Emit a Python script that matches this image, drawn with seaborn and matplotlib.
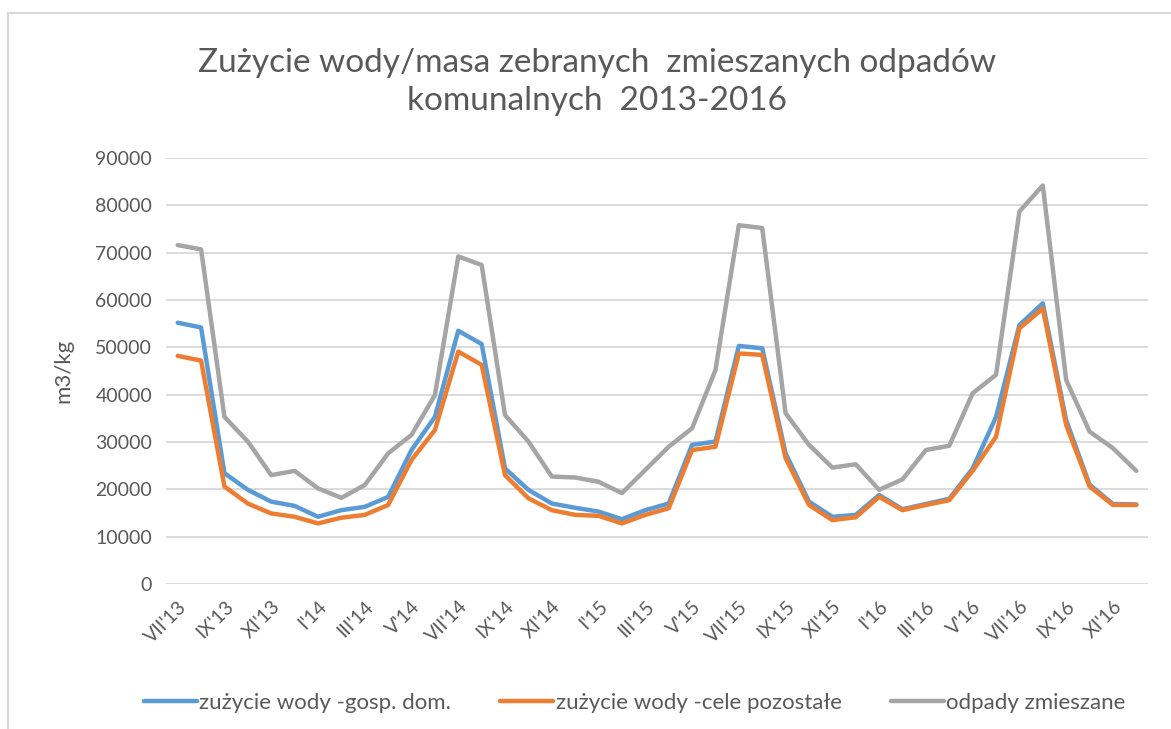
import seaborn as sns
import matplotlib.pyplot as plt
import pandas as pd

months = ["VII'13", "VIII'13", "IX'13", "X'13", "XI'13", "XII'13",
          "I'14", "II'14", "III'14", "IV'14", "V'14", "VI'14",
          "VII'14", "VIII'14", "IX'14", "X'14", "XI'14", "XII'14",
          "I'15", "II'15", "III'15", "IV'15", "V'15", "VI'15",
          "VII'15", "VIII'15", "IX'15", "X'15", "XI'15", "XII'15",
          "I'16", "II'16", "III'16", "IV'16", "V'16", "VI'16",
          "VII'16", "VIII'16", "IX'16", "X'16", "XI'16", "XII'16"]

woda_dom = [55200, 54200, 23400, 19900, 17400, 16500, 14200, 15600, 16300, 18400, 28300, 35300,
            53500, 50700, 24400, 19900, 17000, 16100, 15300, 13700, 15600, 17000, 29400, 30100,
            50300, 49800, 27600, 17400, 14200, 14600, 18800, 15800, 16900, 18000, 24400, 35300,
            54700, 59300, 34600, 21000, 16900, 16800]

woda_poz = [48200, 47200, 20600, 17000, 14900, 14200, 12800, 14000, 14600, 16700, 26200, 32500,
            49100, 46300, 23000, 18100, 15600, 14600, 14400, 12800, 14600, 16000, 28300, 29000,
            48700, 48400, 26600, 16700, 13500, 14100, 18400, 15600, 16700, 17700, 23900, 31100,
            54000, 58200, 33600, 20600, 16700, 16700]

odpady = [71600, 70700, 35300, 30100, 23000, 23900, 20200, 18200, 20900, 27600, 31500, 39900,
          69200, 67400, 35700, 30100, 22700, 22500, 21600, 19200, 24100, 29000, 32900, 45200,
          75800, 75200, 36100, 29400, 24600, 25300, 19900, 22100, 28300, 29200, 40300, 44200,
          78700, 84200, 43100, 32200, 28700, 23900]

series_names = ["zużycie wody -gosp. dom.", "zużycie wody -cele pozostałe", "odpady zmieszane"]
colors = ["#5B9BD5", "#ED7D31", "#A5A5A5"]

rows = []
for name, vals in zip(series_names, [woda_dom, woda_poz, odpady]):
    for i, v in enumerate(vals):
        rows.append({"idx": i, "value": v, "seria": name})
df = pd.DataFrame(rows)

sns.set_style("white")
plt.rcParams['font.family'] = ['Lato', 'DejaVu Sans']
txt = "#595959"

fig = plt.figure(figsize=(11.71, 7.29), dpi=100)
ax = fig.add_axes([166 / 1171, 1 - 584 / 729, (1148 - 166) / 1171, (584 - 158) / 729])

sns.lineplot(data=df, x="idx", y="value", hue="seria", hue_order=series_names,
             palette=colors, linewidth=3.2, ax=ax, legend=True)

ax.set_xlim(-0.5, len(months) - 0.5)
ax.set_ylim(0, 90000)
ax.set_yticks(range(0, 90001, 10000))
ax.set_yticklabels([str(v) for v in range(0, 90001, 10000)], color=txt, fontsize=14)
ax.set_xticks(range(0, len(months), 2))
ax.set_xticklabels(months[::2], rotation=45, ha="right", rotation_mode="anchor",
                   color=txt, fontsize=14)
ax.tick_params(axis="both", length=0, pad=10)
ax.grid(axis="y", color="#D9D9D9", linewidth=1.3)
ax.set_axisbelow(True)
for s in ax.spines.values():
    s.set_visible(False)
ax.set_xlabel("")
ax.set_ylabel("m3/kg", color=txt, fontsize=16, labelpad=16)

ax.legend_.remove()
handles, labels = ax.get_legend_handles_labels()
fig.legend(handles, labels, loc="center", bbox_to_anchor=(0.542, 1 - 703 / 729), ncol=3,
           frameon=False, fontsize=16, labelcolor=txt, handlelength=2.4,
           handletextpad=0.1, columnspacing=2.2)

fig.text(597 / 1171, 1 - 82 / 729, "Zużycie wody/masa zebranych  zmieszanych odpadów\nkomunalnych  2013-2016",
         ha="center", va="center", fontsize=24, color=txt, linespacing=1.3)

# frame of the chart area (top and left edges visible)
fig.add_artist(plt.Line2D([8 / 1171, 1], [1 - 13 / 729, 1 - 13 / 729], color="#D9D9D9", linewidth=1.5))
fig.add_artist(plt.Line2D([8 / 1171, 8 / 1171], [0, 1 - 13 / 729], color="#D9D9D9", linewidth=1.5))

fig.savefig("out.png", dpi=100)
